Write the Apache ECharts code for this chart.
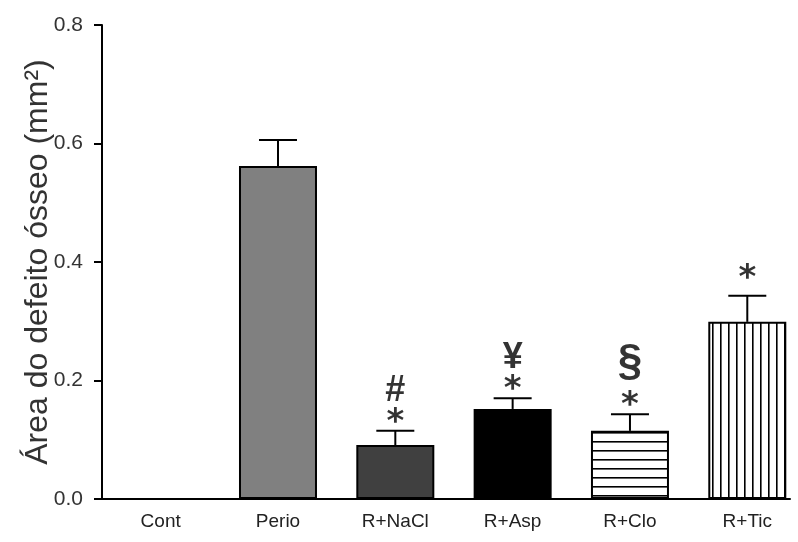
<!DOCTYPE html>
<html><head><meta charset="utf-8">
<script src="https://cdn.jsdelivr.net/npm/echarts@6/dist/echarts.min.js"></script>
<style>html,body{margin:0;padding:0;background:#fff}#c{width:798px;height:542px}</style>
</head><body><div id="c"></div>
<script>
const categories = ['Cont', 'Perio', 'R+NaCl', 'R+Asp', 'R+Clo', 'R+Tic'];
const means = [0, 0.562, 0.091, 0.152, 0.115, 0.299];
const sems = [0, 0.044, 0.024, 0.018, 0.028, 0.044];
const annotations = ['', '', '{s|#}\n{a|*}', '{s|¥}\n{a|*}', '{p|§}\n{a|*}', '{t|*}'];
const yTicks = [0, 0.2, 0.4, 0.6, 0.8];

function stripe(dir) {
  const c = document.createElement('canvas');
  const s = dir === 'h' ? 9 : 8;
  c.width = dir === 'h' ? 4 : s; c.height = dir === 'h' ? s : 4;
  const g = c.getContext('2d');
  g.fillStyle = '#fff'; g.fillRect(0, 0, c.width, c.height);
  g.fillStyle = '#000';
  if (dir === 'h') g.fillRect(0, 0, c.width, 1.6); else g.fillRect(0, 0, 1.6, c.height);
  return { image: c, repeat: 'repeat' };
}
const fills = ['#ffffff', '#808080', '#404040', '#000000', stripe('h'), stripe('v')];

const chart = echarts.init(document.getElementById('c'), null, { renderer: 'canvas' });
const font = 'Liberation Sans, Arial, sans-serif';
chart.setOption({
  animation: false,
  grid: { left: 102, right: 8, top: 25, bottom: 43 },
  xAxis: {
    type: 'value', min: -0.5, max: 5.364,
    splitLine: { show: false },
    axisLine: { onZero: false, lineStyle: { color: '#000', width: 2 } },
    axisTick: { show: false },
    axisLabel: {
      customValues: categories.map((_, i) => i),
      formatter: v => categories[Math.round(v)] || '',
      color: '#222', fontSize: 19, fontFamily: font, margin: 13
    }
  },
  yAxis: {
    type: 'value', min: 0, max: 0.8, interval: 0.2,
    name: 'Área do defeito ósseo (mm²)', nameLocation: 'middle', nameGap: 48,
    nameMoveOverlap: false,
    nameTextStyle: { fontSize: 32, fontFamily: font, color: '#333' },
    splitLine: { show: false },
    axisLine: { show: true, onZero: false, lineStyle: { color: '#000', width: 2 } },
    axisTick: { show: true, length: 8, lineStyle: { color: '#000', width: 2 } },
    axisLabel: { formatter: v => v.toFixed(1), fontSize: 21, fontFamily: font, color: '#333', margin: 19 }
  },
  series: [
    {
      type: 'bar', barWidth: 78,
      data: means.map((v, i) => ({ value: [i, v], itemStyle: { color: fills[i] } })),
      itemStyle: { borderColor: '#000', borderWidth: 2 }
    },
    {
      type: 'custom', z: 1,
      data: means.map((v, i) => [i, v, v + sems[i]]),
      renderItem: function (params, api) {
        const i = api.value(0);
        if (sems[i] === 0) return null;
        const b = api.coord([i, api.value(1)]);
        const t = api.coord([i, api.value(2)]);
        const st = { stroke: '#000', lineWidth: 2 };
        return { type: 'group', children: [
          { type: 'line', shape: { x1: b[0], y1: b[1], x2: t[0], y2: t[1] }, style: st },
          { type: 'line', shape: { x1: t[0] - 19, y1: t[1], x2: t[0] + 19, y2: t[1] }, style: st }
        ]};
      }
    },
    {
      type: 'scatter', symbolSize: 0, z: 3,
      data: means.map((v, i) => [i, v + sems[i]]),
      label: {
        show: true, position: 'top', distance: -6,
        formatter: p => annotations[p.dataIndex],
        color: '#000',
        rich: {
          a: { fontFamily: 'DejaVu Sans', fontWeight: 'bold', fontSize: 34, lineHeight: 28, color: '#000' },
          t: { fontFamily: 'DejaVu Sans', fontWeight: 'bold', fontSize: 34, lineHeight: 46, color: '#000' },
          s: { fontFamily: font, fontWeight: 'bold', fontSize: 36, lineHeight: 36, color: '#000' },
          p: { fontFamily: font, fontWeight: 'bold', fontSize: 44, lineHeight: 58, color: '#000' }
        }
      }
    }
  ]
});
</script></body></html>
